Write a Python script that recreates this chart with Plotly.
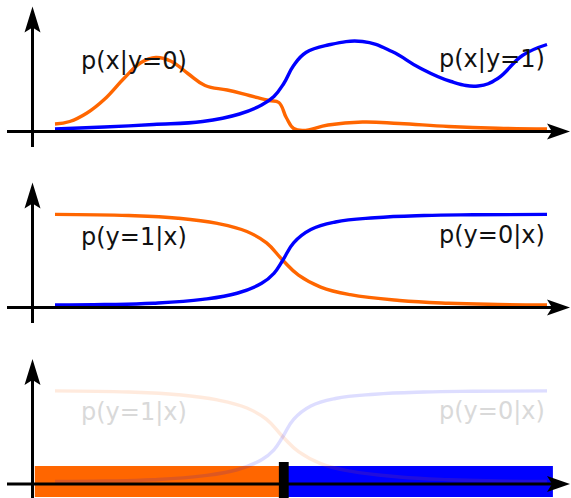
import plotly.graph_objects as go

W, H = 571, 498

# ---- class-conditional densities (top panel) ----
dens0_x = [0.00, 0.30, 0.65, 1.00, 1.40, 1.75, 2.05, 2.35, 2.70, 3.05, 3.50, 3.95,
           4.35, 4.55, 4.70, 4.85, 5.05, 5.55, 6.25, 7.00, 8.00, 9.00, 10.00]
dens0_y = [0.075, 0.100, 0.185, 0.320, 0.530, 0.690, 0.740, 0.705, 0.580, 0.460, 0.415, 0.360,
           0.310, 0.290, 0.140, 0.030, 0.010, 0.065, 0.095, 0.080, 0.050, 0.032, 0.025]

dens1_x = [0.00, 1.00, 2.00, 3.00, 3.75, 4.20, 4.45, 4.65, 4.85, 5.10, 5.55,
           6.25, 6.85, 7.40, 8.05, 8.60, 9.00, 9.50, 10.00]
dens1_y = [0.025, 0.045, 0.070, 0.100, 0.175, 0.265, 0.350, 0.480, 0.660, 0.790, 0.865,
           0.900, 0.800, 0.640, 0.500, 0.455, 0.530, 0.760, 0.870]

density_labels = ["p(x|y=0)", "p(x|y=1)"]

# ---- posteriors (middle and bottom panels) ----
post_hi_left_x = [0.00, 1.50, 2.50, 3.30, 3.90, 4.30, 4.63, 4.95, 5.40, 6.00, 7.00, 8.00, 9.00, 10.00]
post_hi_left_y = [0.980, 0.968, 0.940, 0.885, 0.800, 0.680, 0.497, 0.340, 0.215, 0.135, 0.074, 0.045, 0.032, 0.026]

post_hi_right_x = [0.00, 1.00, 2.00, 3.00, 3.70, 4.20, 4.45, 4.63, 4.85, 5.20, 5.70, 6.50, 7.50, 8.50, 10.00]
post_hi_right_y = [0.026, 0.031, 0.045, 0.085, 0.150, 0.255, 0.360, 0.497, 0.680, 0.820, 0.900, 0.945, 0.968, 0.976, 0.980]

posterior_labels = ["p(y=1|x)", "p(y=0|x)"]

# ---- decision regions (bottom panel) ----
region_edges = [-0.41, 4.65, 10.12]

ORANGE = "#ff6600"
BLUE = "#0000ff"
FONT = "DejaVu Sans"

# pixel geometry of the three stacked panels: (axis line y, top, bottom, px per unit)
panels = [(131.5, 0, 165, 100.0), (307.5, 165, 340, 95.0), (484.0, 340, 498, 95.0)]
PX_PER_X = 49.2
X_ORIGIN_PX = 55.0
x_range = [(0 - X_ORIGIN_PX) / PX_PER_X, (W - X_ORIGIN_PX) / PX_PER_X]


def px(v):
    return v / W


def py(v):
    return 1 - v / H


fig = go.Figure()

layout_axes = {}
for i, (a, t, b, s) in enumerate(panels, 1):
    xn = "xaxis" if i == 1 else f"xaxis{i}"
    yn = "yaxis" if i == 1 else f"yaxis{i}"
    layout_axes[xn] = dict(domain=[0, 1], range=x_range, visible=False,
                           anchor="y" if i == 1 else f"y{i}", fixedrange=True)
    layout_axes[yn] = dict(domain=[1 - b / H, 1 - t / H], range=[(a - b) / s, (a - t) / s],
                           visible=False, anchor="x" if i == 1 else f"x{i}", fixedrange=True)


def curve(x, y, color, xa, ya, opacity=1.0):
    return go.Scatter(x=x, y=y, mode="lines", xaxis=xa, yaxis=ya, opacity=opacity,
                      line=dict(color=color, width=3.4, shape="spline", smoothing=1.2),
                      hoverinfo="skip", showlegend=False)


# top panel: densities
fig.add_trace(curve(dens0_x, dens0_y, ORANGE, "x", "y"))
fig.add_trace(curve(dens1_x, dens1_y, BLUE, "x", "y"))

# middle panel: posteriors
fig.add_trace(curve(post_hi_left_x, post_hi_left_y, ORANGE, "x2", "y2"))
fig.add_trace(curve(post_hi_right_x, post_hi_right_y, BLUE, "x2", "y2"))

# bottom panel: decision regions, boundary marker, faded posteriors
bar_center, bar_thick = 0.026, 0.326
fig.add_trace(go.Bar(orientation="h", base=[region_edges[0]], x=[region_edges[1] - region_edges[0]],
                     y=[bar_center], width=[bar_thick], marker=dict(color=ORANGE, line_width=0),
                     xaxis="x3", yaxis="y3", hoverinfo="skip", showlegend=False))
fig.add_trace(go.Bar(orientation="h", base=[region_edges[1]], x=[region_edges[2] - region_edges[1]],
                     y=[bar_center], width=[bar_thick], marker=dict(color=BLUE, line_width=0),
                     xaxis="x3", yaxis="y3", hoverinfo="skip", showlegend=False))
marker_w = 0.2
fig.add_trace(go.Bar(orientation="h", base=[region_edges[1] - marker_w / 2], x=[marker_w],
                     y=[0.042], width=[0.379], marker=dict(color="black", line_width=0),
                     xaxis="x3", yaxis="y3", hoverinfo="skip", showlegend=False))
fig.add_trace(curve(post_hi_left_x, post_hi_left_y, ORANGE, "x3", "y3", opacity=0.13))
fig.add_trace(curve(post_hi_right_x, post_hi_right_y, BLUE, "x3", "y3", opacity=0.13))

# arrowed axes for each panel
shapes = []
YAXIS_PX = 32.5
for i, (a, t, b, s) in enumerate(panels):
    tip_y = a - 125
    bottom = H if i == 2 else a + 15.5
    # horizontal axis
    shapes.append(dict(type="line", xref="paper", yref="paper", x0=px(7), x1=px(556),
                       y0=py(a), y1=py(a), line=dict(color="black", width=3), layer="above"))
    shapes.append(dict(type="path", xref="paper", yref="paper", layer="above",
                       path=(f"M{px(570)},{py(a)} L{px(547)},{py(a - 8)} L{px(552)},{py(a)} "
                             f"L{px(547)},{py(a + 8)} Z"),
                       fillcolor="black", line=dict(width=0)))
    # vertical axis
    shapes.append(dict(type="line", xref="paper", yref="paper", x0=px(YAXIS_PX), x1=px(YAXIS_PX),
                       y0=py(bottom), y1=py(tip_y + 20), line=dict(color="black", width=3), layer="above"))
    shapes.append(dict(type="path", xref="paper", yref="paper", layer="above",
                       path=(f"M{px(YAXIS_PX)},{py(tip_y)} L{px(YAXIS_PX - 8)},{py(tip_y + 26)} "
                             f"L{px(YAXIS_PX)},{py(tip_y + 21)} L{px(YAXIS_PX + 8)},{py(tip_y + 26)} Z"),
                       fillcolor="black", line=dict(width=0)))

# text labels
annotations = []
label_rows = [
    (density_labels, 61, 59, "#111111"),
    (posterior_labels, 237, 235, "#111111"),
    (posterior_labels, 412, 411, "#d9d9d9"),
]
for labels, yl, yr, color in label_rows:
    annotations.append(dict(text=labels[0], xref="paper", yref="paper", x=px(79), y=py(yl),
                            xanchor="left", yanchor="middle", showarrow=False,
                            font=dict(family=FONT, size=24, color=color)))
    annotations.append(dict(text=labels[1], xref="paper", yref="paper", x=px(547), y=py(yr),
                            xanchor="right", yanchor="middle", showarrow=False,
                            font=dict(family=FONT, size=24, color=color)))

fig.update_layout(
    width=W, height=H, margin=dict(l=0, r=0, t=0, b=0),
    paper_bgcolor="white", plot_bgcolor="white",
    barmode="overlay", showlegend=False,
    shapes=shapes, annotations=annotations,
    **layout_axes,
)

fig.write_html("out.html", config={"displayModeBar": False})
